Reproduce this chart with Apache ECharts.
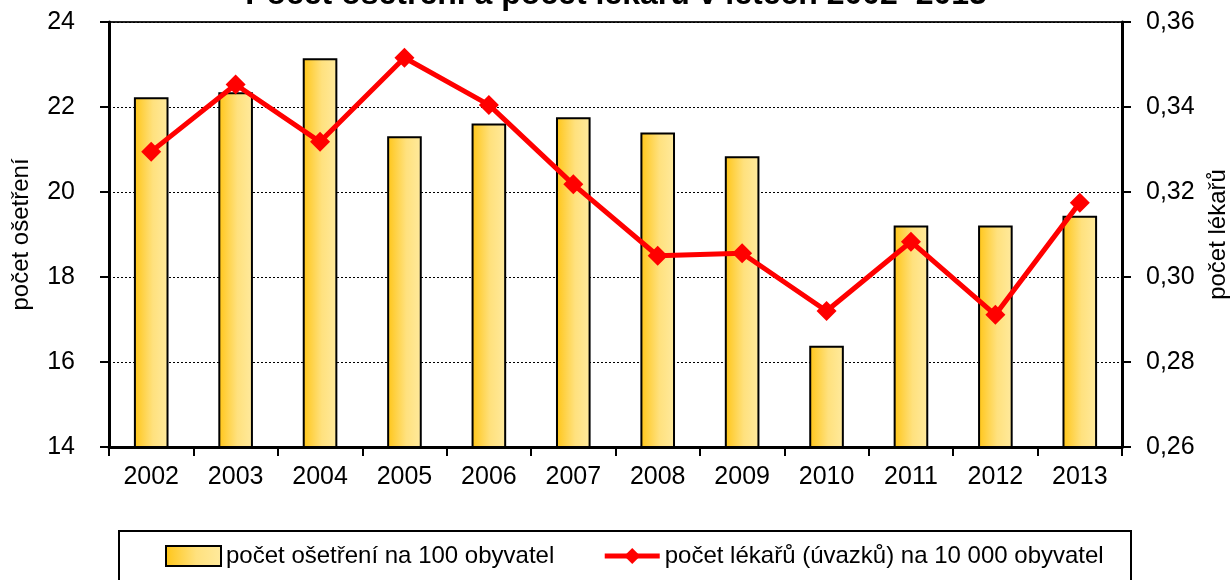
<!DOCTYPE html>
<html>
<head>
<meta charset="utf-8">
<script src="https://cdn.jsdelivr.net/npm/echarts@6/dist/echarts.min.js"></script>
<style>
html,body{margin:0;padding:0;background:#fff;}
#chart{width:1232px;height:580px;}
</style>
</head>
<body>
<div id="chart"></div>
<script>
const years = ['2002','2003','2004','2005','2006','2007','2008','2009','2010','2011','2012','2013'];
const osetreni = [22.23, 22.35, 23.15, 21.31, 21.61, 21.76, 21.40, 20.84, 16.38, 19.21, 19.21, 19.44];
const lekari = [0.3295, 0.3453, 0.3318, 0.3516, 0.3405, 0.3218, 0.3050, 0.3056, 0.2920, 0.3083, 0.2911, 0.3175];
const leftTicks = [14, 16, 18, 20, 22, 24];
const rightTicks = [0.26, 0.28, 0.30, 0.32, 0.34, 0.36];
const titleText = 'Počet ošetření a počet lékařů v letech 2002–2013';
const nameBar = 'počet ošetření na 100 obyvatel';
const nameLine = 'počet lékařů (úvazků) na 10 000 obyvatel';

const FONT = '"Liberation Sans Narrow", "Arial Narrow", "Liberation Sans", Arial, sans-serif';
const chart = echarts.init(document.getElementById('chart'));
const barFill = new echarts.graphic.LinearGradient(0, 0, 1, 0, [
  {offset: 0, color: '#FFC516'},
  {offset: 0.55, color: '#FFE17E'},
  {offset: 1, color: '#FFEA9E'}
]);
chart.setOption({
  animation: false,
  backgroundColor: '#fff',
  title: {
    text: titleText,
    left: 'center',
    top: -26,
    textStyle: {fontFamily: '"Liberation Sans", Arial, sans-serif', fontWeight: 'bold', fontSize: 32, color: '#000'}
  },
  graphic: [{
    type: 'rect',
    shape: {x: 119, y: 531, width: 1012, height: 80},
    style: {fill: 'none', stroke: '#000', lineWidth: 2},
    z: 0
  }],
  legend: {
    left: 160,
    top: 539,
    itemGap: 48,
    itemWidth: 55,
    itemHeight: 20,
    textStyle: {fontFamily: FONT, fontSize: 24, color: '#000'},
    data: [
      {name: nameBar, icon: 'rect', itemStyle: {color: barFill, borderColor: '#000', borderWidth: 2}},
      {name: nameLine, lineStyle: {width: 5, color: '#FF0000'}}
    ]
  },
  grid: {
    left: 109, right: 110, top: 22, bottom: 133,
    outerBoundsMode: 'none',
    containLabel: false,
    show: true, borderColor: '#222', borderWidth: 2
  },
  xAxis: {
    type: 'category',
    data: years,
    boundaryGap: true,
    axisLine: {lineStyle: {color: '#000', width: 3}},
    axisTick: {show: true, length: 9, lineStyle: {color: '#000', width: 2}},
    axisLabel: {fontFamily: FONT, fontSize: 25, color: '#000', margin: 18}
  },
  yAxis: [{
    type: 'value',
    min: 14, max: 24, interval: 2,
    position: 'left',
    name: 'počet ošetření',
    nameLocation: 'middle',
    nameRotate: 90,
    nameGap: 76,
    nameTextStyle: {fontFamily: FONT, fontSize: 24, color: '#000'},
    axisLine: {show: true, lineStyle: {color: '#000', width: 3}},
    axisTick: {show: true, length: 9, lineStyle: {color: '#000', width: 2}},
    axisLabel: {fontFamily: FONT, fontSize: 25, color: '#000', margin: 34,
      formatter: v => leftTicks.includes(v) ? String(v) : ''},
    splitLine: {show: true, lineStyle: {color: '#000', width: 1, type: [2, 2]}}
  }, {
    type: 'value',
    min: 0.26, max: 0.36, interval: 0.02,
    position: 'right',
    name: 'počet lékařů',
    nameLocation: 'middle',
    nameRotate: 90,
    nameGap: 84,
    nameTextStyle: {fontFamily: FONT, fontSize: 24, color: '#000'},
    axisLine: {show: true, lineStyle: {color: '#000', width: 3}},
    axisTick: {show: true, length: 9, lineStyle: {color: '#000', width: 2}},
    axisLabel: {fontFamily: FONT, fontSize: 25, color: '#000', margin: 24,
      formatter: v => {
        const r = rightTicks.find(t => Math.abs(t - v) < 1e-9);
        return r === undefined ? '' : r.toFixed(2).replace('.', ',');
      }},
    splitLine: {show: false}
  }],
  series: [{
    name: nameBar,
    type: 'bar',
    data: osetreni,
    yAxisIndex: 0,
    barWidth: '41%',
    itemStyle: {color: barFill, borderColor: '#000', borderWidth: 2}
  }, {
    name: nameLine,
    type: 'line',
    data: lekari,
    yAxisIndex: 1,
    symbol: 'diamond',
    symbolSize: 20,
    lineStyle: {color: '#FF0000', width: 5},
    itemStyle: {color: '#FF0000'},
    z: 5
  }]
});
</script>
</body>
</html>
